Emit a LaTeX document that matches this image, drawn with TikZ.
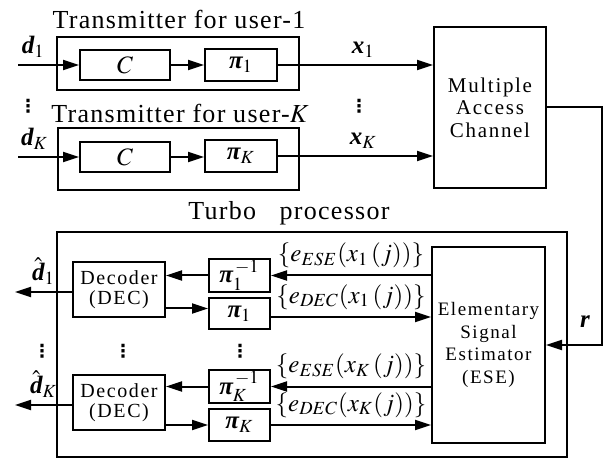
\documentclass[tikz,border=0pt]{standalone}
\usepackage{amsmath}
\usepackage{mathptmx}
\usepackage[no-math]{fontspec}
\setmainfont{Liberation Serif}
\newfontfamily\headfont[LetterSpace=5]{Liberation Serif}
\newfontfamily\boxfont[LetterSpace=8]{Liberation Serif}
\newfontfamily\dotfont{DejaVu Sans}
\usetikzlibrary{arrows.meta, positioning, calc}

\newcommand{\bv}[1]{\text{\bfseries\itshape #1}}

\begin{document}
\begin{tikzpicture}[x=0.5pt, y=-0.5pt,
  blk/.style={draw, rectangle, line width=1pt, inner sep=0pt, align=center},
  frame/.style={blk},
  headline/.style={font=\fontsize{13}{15}\headfont},
  boxtext/.style={blk, font=\fontsize{9.5}{11.25}\boxfont},
  sym/.style={font=\fontsize{12.5}{15}\selectfont},
  arrow/.style={-{Triangle[length=8pt,width=5pt]}, line width=1pt},
  vdots/.style={font=\fontsize{9}{9}\dotfont\bfseries, inner sep=0pt},
]
\useasboundingbox (0,0) rectangle (606,460);

%% Transmitter for user-1
\node[frame, minimum width=121pt, minimum height=26.5pt] (tx1) at (178,63.5) {};
\node[headline] (tx1name) at (179,19) {Transmitter for user-1};
\node[blk, sym, minimum width=45pt, minimum height=15pt] (enc1) at (125,65) {$C$};
\node[blk, sym, minimum width=36pt, minimum height=16pt] (int1) at (241,65) {$\bv{π}_1$};

%% Transmitter for user-K
\node[frame, minimum width=120.5pt, minimum height=31pt] (txK) at (178.5,159) {};
\node[headline] (txKname) at (180,113) {Transmitter for user-$K$};
\node[blk, sym, minimum width=45pt, minimum height=15pt] (encK) at (125,157) {$C$};
\node[blk, sym, minimum width=36pt, minimum height=16pt] (intK) at (241,156) {$\bv{π}_K$};

%% Channel
\node[boxtext, font=\fontsize{10.5}{11.25}\boxfont, minimum width=56pt, minimum height=80.5pt]
  (mac) at (490,107.5) {Multiple\\Access\\Channel};

%% Turbo processor
\node[frame, minimum width=255pt, minimum height=112.5pt] (turbo) at (312,344.5) {};
\node[headline] (turboname) at (289,213) {Turbo\hspace{0.9em}processor};
\node[boxtext, minimum width=56.5pt, minimum height=98pt] (ese) at (488.5,345)
  {Elementary\\Signal\\Estimator\\(ESE)};
\node[boxtext, font=\fontsize{10}{10}\boxfont, minimum width=46pt, minimum height=27.5pt]
  (dec1) at (119,289.5) {Decoder\\(DEC)};
\node[boxtext, font=\fontsize{10}{10}\boxfont, minimum width=46pt, minimum height=27.5pt]
  (decK) at (119,402.5) {Decoder\\(DEC)};
\node[blk, sym, minimum width=30.5pt, minimum height=16.5pt] (deint1) at (239.5,275.5) {$\bv{π}_1^{\,-1}$};
\node[blk, sym, minimum width=30.5pt, minimum height=15.5pt] (reint1) at (239.5,313.5) {$\bv{π}_1$};
\node[blk, sym, minimum width=30.5pt, minimum height=16.5pt] (deintK) at (239.5,386.5) {$\bv{π}_K^{\,-1}$};
\node[blk, sym, minimum width=30.5pt, minimum height=16pt] (reintK) at (239.5,425) {$\bv{π}_K$};

%% Dots
\node[vdots] (dotsin) at (28,106) {⋮};
\node[vdots] (dotsx) at (359,106) {⋮};
\node[vdots] (dotsout) at (42,351) {⋮};
\node[vdots] (dotsdec) at (123,351) {⋮};
\node[vdots] (dotspi) at (240,351) {⋮};

%% Free ends
\coordinate (in1) at (18,65);
\coordinate (inK) at (18,157);
\coordinate (out1) at (15,292);
\coordinate (outK) at (15,405);
\coordinate (rbend) at (602,345);
\coordinate (reint1in) at ($(reint1.west)+(0,-5)$);
\coordinate (reint1out) at ($(reint1.east)+(0,3.5)$);

%% Transmitters
\draw[arrow] (in1) -- (enc1) node[pos=0.25, above, sym] {$\bv{d}_1$};
\draw[arrow] (enc1) -- (int1);
\draw[arrow] (int1) -- (int1 -| mac.west) node[pos=0.55, above, sym] {$\bv{x}_1$};
\draw[arrow] (inK) -- (encK) node[pos=0.27, above, sym] {$\bv{d}_K$};
\draw[arrow] (encK) -- (encK -| intK.west);
\draw[arrow] (intK) -- (intK -| mac.west) node[pos=0.55, above, sym] {$\bv{x}_K$};

%% Received signal
\draw[arrow] (mac.east) -| (rbend) -- (ese.east);
\node[sym] (rlabel) at (585,322) {$\bv{r}$};

%% Turbo loop, user 1
\draw[arrow] (ese.west |- deint1) -- (deint1)
  node[midway, above, sym] {$\{e_{ESE}(x_1\,(j))\}$};
\draw[arrow] (deint1) -- (deint1 -| dec1.east);
\draw[arrow] (reint1in -| dec1.east) -- (reint1in);
\draw[arrow] (reint1out) -- (reint1out -| ese.west)
  node[midway, above, sym] {$\{e_{DEC}(x_1\,(j))\}$};
\draw[arrow] (dec1.west |- out1) -- (out1) node[midway, above, sym] {$\hat{\bv{d}}_1$};

%% Turbo loop, user K
\draw[arrow] (ese.west |- deintK) -- (deintK)
  node[midway, above, sym] {$\{e_{ESE}(x_K\,(j))\}$};
\draw[arrow] (deintK) -- (deintK -| decK.east);
\draw[arrow] (reintK -| decK.east) -- (reintK);
\draw[arrow] (reintK) -- (reintK -| ese.west)
  node[midway, above, sym] {$\{e_{DEC}(x_K(j))\}$};
\draw[arrow] (decK.west |- outK) -- (outK) node[midway, above, sym] {$\hat{\bv{d}}_K$};

\end{tikzpicture}
\end{document}
